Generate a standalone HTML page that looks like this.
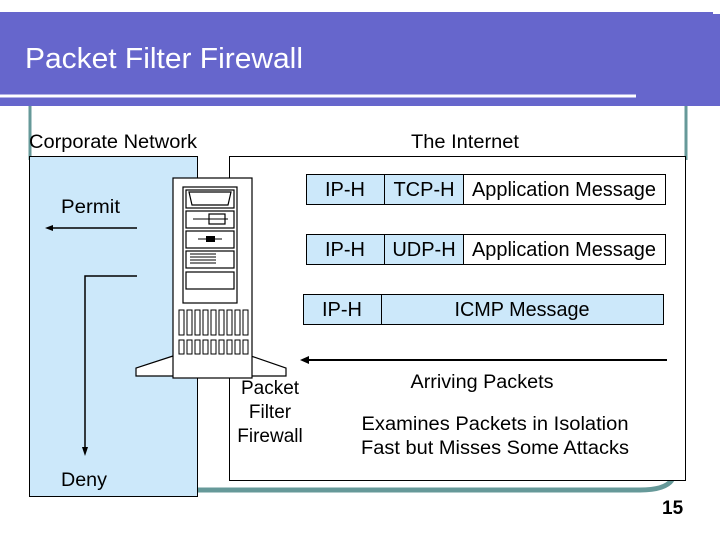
<!DOCTYPE html>
<html><head><style>
html,body{margin:0;padding:0;background:#fff;}
svg{display:block;}
text{font-family:"Liberation Sans",Arial,sans-serif;}
</style></head><body>
<svg width="720" height="540" viewBox="0 0 720 540" xmlns="http://www.w3.org/2000/svg">
<rect x="0" y="12" width="713" height="94" fill="#6666cc"/>
<rect x="700" y="14" width="20" height="92" fill="#6666cc"/>
<line x1="0" y1="96" x2="636" y2="96" stroke="#fff" stroke-width="3"/>
<text x="25" y="68" font-size="29" fill="#fff" textLength="278" lengthAdjust="spacingAndGlyphs">Packet Filter Firewall</text>
<line x1="30" y1="106" x2="30" y2="160" stroke="#669999" stroke-width="3"/>
<line x1="686" y1="106" x2="686" y2="160" stroke="#669999" stroke-width="3"/>
<path d="M198 490 L640 490 Q665 490 672 480" fill="none" stroke="#669999" stroke-width="5"/>
<text x="29" y="148" font-size="19" textLength="168" lengthAdjust="spacingAndGlyphs">Corporate Network</text>
<text x="411" y="148" font-size="19" textLength="108" lengthAdjust="spacingAndGlyphs">The Internet</text>
<rect x="29.5" y="156.5" width="168" height="340" fill="#cce8fa" stroke="#000"/>
<rect x="229.5" y="156.5" width="456" height="324" fill="#fff" stroke="#000"/>
<text x="61" y="213" font-size="19" textLength="59" lengthAdjust="spacingAndGlyphs">Permit</text>
<line x1="137" y1="228" x2="52" y2="228" stroke="#000" stroke-width="1.5"/>
<polygon points="45,228 53,225 53,231" fill="#000"/>
<polyline points="137,276 85,276 85,448" fill="none" stroke="#000" stroke-width="1.5"/>
<polygon points="85,456 82,447 88,447" fill="#000"/>
<text x="61" y="486" font-size="19" textLength="46" lengthAdjust="spacingAndGlyphs">Deny</text>
<g stroke="#000" fill="#fff" stroke-width="1.2">
<polygon points="173,356 136,368 136,376 286,376 286,368 251,356"/>
<rect x="173" y="178" width="79" height="200"/>
<rect x="183" y="187" width="54" height="116"/>
<rect x="186" y="190" width="48" height="18"/>
<polygon points="189,192 231,192 228,205 192,205" fill="none"/>
<rect x="186" y="211" width="48" height="17"/>
<rect x="209" y="214" width="16" height="10"/>
<rect x="186" y="231" width="48" height="17"/>
<rect x="186" y="251" width="48" height="17"/>
<rect x="186" y="272" width="48" height="17"/>
</g>
<line x1="193" y1="219" x2="228" y2="219" stroke="#000"/>
<line x1="198" y1="239" x2="222" y2="239" stroke="#000"/>
<rect x="206" y="236" width="9" height="6" fill="#000"/>
<g stroke="#000" stroke-width="1">
<line x1="190" y1="254" x2="216" y2="254"/><line x1="190" y1="257" x2="216" y2="257"/>
<line x1="190" y1="260" x2="216" y2="260"/><line x1="190" y1="263" x2="216" y2="263"/>
</g>
<g fill="none" stroke="#000" stroke-width="1">
<rect x="179" y="310" width="5" height="25"/><rect x="187" y="310" width="5" height="25"/>
<rect x="195" y="310" width="5" height="25"/><rect x="203" y="310" width="5" height="25"/>
<rect x="211" y="310" width="5" height="25"/><rect x="219" y="310" width="5" height="25"/>
<rect x="227" y="310" width="5" height="25"/><rect x="235" y="310" width="5" height="25"/><rect x="243" y="310" width="5" height="25"/>
<rect x="179" y="340" width="5" height="14"/><rect x="187" y="340" width="5" height="14"/>
<rect x="195" y="340" width="5" height="14"/><rect x="203" y="340" width="5" height="14"/>
<rect x="211" y="340" width="5" height="14"/><rect x="219" y="340" width="5" height="14"/>
<rect x="227" y="340" width="5" height="14"/><rect x="235" y="340" width="5" height="14"/><rect x="243" y="340" width="5" height="14"/>
</g>
<g font-size="19" text-anchor="middle">
<text x="270" y="394">Packet</text>
<text x="270" y="418">Filter</text>
<text x="270" y="442">Firewall</text>
</g>
<g stroke="#000" stroke-width="1">
<rect x="306.5" y="174.5" width="157" height="30" fill="#cce8fa"/>
<rect x="463.5" y="174.5" width="202" height="30" fill="#fff"/>
<line x1="384.5" y1="174" x2="384.5" y2="205"/>
<rect x="306.5" y="234.5" width="157" height="30" fill="#cce8fa"/>
<rect x="463.5" y="234.5" width="202" height="30" fill="#fff"/>
<line x1="384.5" y1="234" x2="384.5" y2="265"/>
<rect x="303.5" y="294.5" width="360" height="30" fill="#cce8fa"/>
<line x1="381.5" y1="294" x2="381.5" y2="325"/>
</g>
<g font-size="20" text-anchor="middle">
<text x="345" y="196">IP-H</text><text x="424" y="196">TCP-H</text><text x="564" y="196" textLength="184" lengthAdjust="spacingAndGlyphs">Application Message</text>
<text x="345" y="256">IP-H</text><text x="424" y="256">UDP-H</text><text x="564" y="256" textLength="184" lengthAdjust="spacingAndGlyphs">Application Message</text>
<text x="342" y="316">IP-H</text><text x="522" y="316" textLength="135" lengthAdjust="spacingAndGlyphs">ICMP Message</text>
</g>
<g font-size="19" text-anchor="middle">
<text x="482" y="388" textLength="143" lengthAdjust="spacingAndGlyphs">Arriving Packets</text>
<text x="495" y="430" textLength="267" lengthAdjust="spacingAndGlyphs">Examines Packets in Isolation</text>
<text x="495" y="454" textLength="268" lengthAdjust="spacingAndGlyphs">Fast but Misses Some Attacks</text>
</g>
<line x1="667" y1="360" x2="307" y2="360" stroke="#000" stroke-width="2"/>
<polygon points="300,360 309,356 309,364" fill="#000"/>
<text x="662" y="514" font-size="19" font-weight="bold">15</text>
</svg>
</body></html>
